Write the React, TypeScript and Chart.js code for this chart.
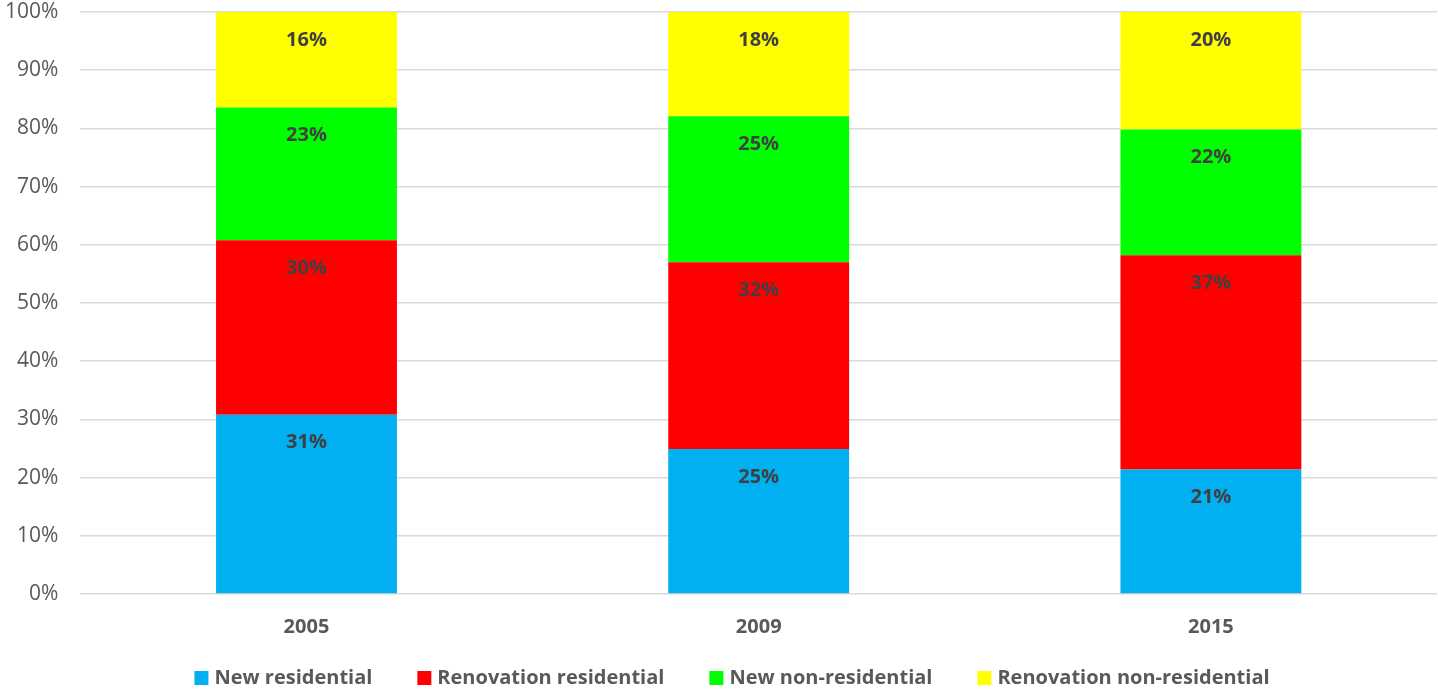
import React, { useEffect, useRef } from "react";
import { Chart, registerables } from "chart.js";

Chart.register(...registerables);

const categories = ["2005", "2009", "2015"];
const seriesNames = ["New residential", "Renovation residential", "New non-residential", "Renovation non-residential"];
const newResidential = [30.8, 24.9, 21.4];
const renovationResidential = [30.0, 32.1, 36.8];
const newNonResidential = [22.8, 25.1, 21.6];
const renovationNonResidential = [16.4, 17.9, 20.2];
const seriesColors = ["#00B0F0", "#FF0000", "#00FF00", "#FFFF00"];
const yTicks = [0, 10, 20, 30, 40, 50, 60, 70, 80, 90, 100];

const FONT = "'Open Sans', 'Noto Sans', sans-serif";

const labelPlugin = {
  id: "segLabels",
  afterDatasetsDraw(chart: any) {
    const ctx = chart.ctx;
    ctx.save();
    ctx.font = `bold 20px ${FONT}`;
    ctx.fillStyle = "#404040";
    ctx.textAlign = "center";
    ctx.textBaseline = "middle";
    chart.data.datasets.forEach((ds: any, di: number) => {
      const meta = chart.getDatasetMeta(di);
      meta.data.forEach((bar: any, i: number) => {
        const v = ds.data[i];
        ctx.fillText(Math.round(v) + "%", bar.x, bar.y + 28);
      });
    });
    ctx.restore();
  },
};

const legendPlugin = {
  id: "customLegend",
  afterDraw(chart: any) {
    const ctx = chart.ctx;
    ctx.save();
    ctx.font = `bold 20px ${FONT}`;
    const box = 14;
    const textGap = 6;
    const itemGap = 45;
    const items = chart.data.datasets.map((ds: any) => ({
      label: ds.label,
      color: ds.backgroundColor,
      w: box + textGap + ctx.measureText(ds.label).width,
    }));
    const total = items.reduce((s: number, it: any) => s + it.w, 0) + itemGap * (items.length - 1);
    let x = chart.width / 2 + 13 - total / 2;
    const y = 678;
    ctx.textBaseline = "middle";
    ctx.textAlign = "left";
    items.forEach((it: any) => {
      ctx.fillStyle = it.color;
      ctx.fillRect(x, y - box / 2, box, box);
      ctx.fillStyle = "#595959";
      ctx.fillText(it.label, x + box + textGap, y);
      x += it.w + itemGap;
    });
    ctx.restore();
  },
};

export default function App() {
  const ref = useRef<HTMLCanvasElement>(null);
  useEffect(() => {
    document.body.style.margin = "0";
    const values = [newResidential, renovationResidential, newNonResidential, renovationNonResidential];
    const chart = new Chart(ref.current!, {
      type: "bar",
      data: {
        labels: categories,
        datasets: seriesNames.map((name, k) => ({
          label: name,
          data: values[k],
          backgroundColor: seriesColors[k],
          borderWidth: 0,
          categoryPercentage: 1,
          barPercentage: 0.4,
        })),
      },
      options: {
        animation: false,
        responsive: false,
        maintainAspectRatio: false,
        layout: { padding: { top: 0, right: 1, left: -17, bottom: 31 } },
        plugins: {
          legend: { display: false },
          tooltip: { enabled: false },
        },
        scales: {
          x: {
            stacked: true,
            grid: { display: false, drawTicks: false },
            border: { display: false },
            ticks: {
              color: "#595959",
              padding: 21,
              font: { family: FONT, size: 20, weight: "bold" },
            },
          },
          y: {
            stacked: true,
            min: 0,
            max: 100,
            afterBuildTicks: (axis: any) => {
              axis.ticks = yTicks.map((v) => ({ value: v }));
            },
            afterFit: (axis: any) => {
              axis.paddingTop = 12;
              axis.paddingBottom = 12;
            },
            grid: { color: "#d9d9d9", lineWidth: 1.5, drawTicks: false },
            border: { display: false },
            ticks: {
              color: "#595959",
              padding: 22,
              font: { family: FONT, size: 21 },
              callback: (v: any) => v + "%",
            },
          },
        },
      },
      plugins: [labelPlugin, legendPlugin],
    });
    return () => chart.destroy();
  }, []);
  return (
    <div style={{ width: 1438, height: 691 }}>
      <canvas ref={ref} width={1438} height={691} style={{ width: 1438, height: 691, display: "block" }} />
    </div>
  );
}
